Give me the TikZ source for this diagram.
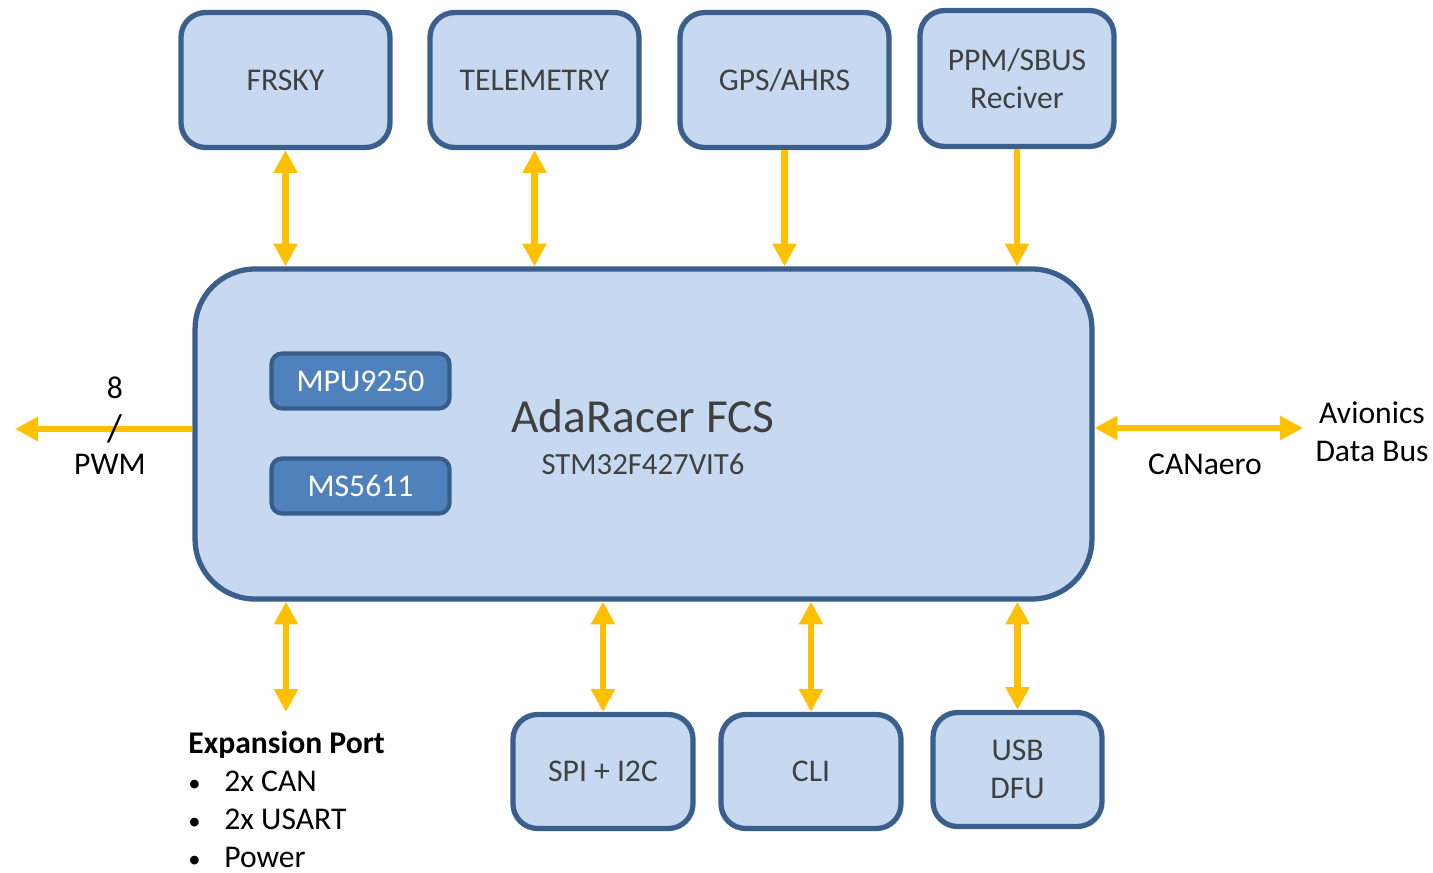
\documentclass[tikz,border=0pt]{standalone}
\usepackage{fontspec}
\setmainfont{Carlito}
\usepackage{tikz}
\usetikzlibrary{arrows.meta}

\definecolor{boxfill}{HTML}{C6D9F1}
\definecolor{boxline}{HTML}{3A5F8D}
\definecolor{chipfill}{HTML}{4F81BD}
\definecolor{chipline}{HTML}{385D8A}
\definecolor{busyellow}{HTML}{FFC000}
\definecolor{labelgray}{HTML}{404040}

\begin{document}
\begin{tikzpicture}[x=0.02cm, y=-0.02cm,
	>={Triangle[width=13pt,length=13pt]},
	block/.style={draw=boxline, fill=boxfill, line width=3pt, rounded corners=14pt, inner sep=0pt, align=center, text=labelgray, font=\fontsize{18}{21.6}\selectfont},
	chip/.style={draw=chipline, fill=chipfill, line width=2.4pt, rounded corners=6pt, minimum width=3.56cm, minimum height=1.1cm, text=white, font=\fontsize{18}{21.6}\selectfont},
	bus/.style={draw=busyellow, line width=3.9pt},
	lbl/.style={text=black, font=\fontsize{18}{21.6}\selectfont}]
			\useasboundingbox (0, 0) rectangle (1433, 872);
			
			% peripherals on top
			\node [block, minimum width=4.18cm, minimum height=2.7cm] (frsky) at (285.5, 80) {FRSKY};
			\node [block, minimum width=4.18cm, minimum height=2.7cm] (telemetry) at (534.5, 80) {TELEMETRY};
			\node [block, minimum width=4.18cm, minimum height=2.7cm] (gps) at (784.5, 80) {GPS/AHRS};
			\node [block, minimum width=3.88cm, minimum height=2.72cm] (ppm) at (1017, 78.5) {PPM/SBUS\\Reciver};
			
			% flight controller
			\node [block, rounded corners=34pt, minimum width=17.94cm, minimum height=6.6cm] (main) at (643.5, 434) {};
			\node [text=labelgray, font=\fontsize{27}{32}\selectfont] (title) at (643, 416) {AdaRacer FCS};
			\node [text=labelgray, font=\fontsize{17.5}{21}\selectfont] (mcu) at (643, 464) {STM32F427VIT6};
			\node [chip] (imu) at (360.5, 381) {MPU9250};
			\node [chip] (baro) at (360.5, 486) {MS5611};
			
			% peripherals below
			\node [block, minimum width=3.6cm, minimum height=2.28cm] (spi) at (603, 771.5) {SPI + I2C};
			\node [block, minimum width=3.6cm, minimum height=2.28cm] (cli) at (811, 771.5) {CLI};
			\node [block, minimum width=3.38cm, minimum height=2.28cm] (usb) at (1017.5, 769.5) {USB\\DFU};
			
			\draw[<->, bus] (frsky) -- (frsky |- main.north);
			\draw[<->, bus] (telemetry) -- (telemetry |- main.north);
			\draw[->, bus] (gps) -- (gps |- main.north);
			\draw[->, bus] (ppm) -- (ppm |- main.north);
			
			\draw[<->, bus] (main.south -| spi) -- (spi);
			\draw[<->, bus] (main.south -| cli) -- (cli);
			\draw[<->, bus] (main.south -| usb) -- (usb);
			
			\coordinate (expend) at (286, 712);
			\draw[<->, bus] (main.south -| expend) -- (expend);
			
			\coordinate (pwmend) at (15, 429);
			\draw[->, bus] (main.west |- pwmend) -- (pwmend);
			\node [lbl] (eight) at (115, 388) {8};
			\node [lbl, font=\fontsize{22}{26}\selectfont] (slash) at (115, 429) {/};
			\node [lbl] (pwm) at (110, 464) {PWM};
			
			\coordinate (canend) at (1303, 428);
			\draw[<->, bus] (main.east |- canend) -- (canend);
			\node [lbl] (canaero) at (1205, 464) {CANaero};
			\node [lbl, align=center] (avionics) at (1372, 432) {Avionics\\Data Bus};
			
			\node [lbl, anchor=base west, inner sep=0pt] (expport) at (188, 753) {\textbf{Expansion Port}};
			\node [lbl, anchor=base west, inner sep=0pt] (can) at (188, 791) {\makebox[0.72cm][l]{{\fontsize{14}{14}\selectfont\textbullet}}2x CAN};
			\node [lbl, anchor=base west, inner sep=0pt] (usart) at (188, 829) {\makebox[0.72cm][l]{{\fontsize{14}{14}\selectfont\textbullet}}2x USART};
			\node [lbl, anchor=base west, inner sep=0pt] (power) at (188, 867) {\makebox[0.72cm][l]{{\fontsize{14}{14}\selectfont\textbullet}}Power};
		\end{tikzpicture}
\end{document}
